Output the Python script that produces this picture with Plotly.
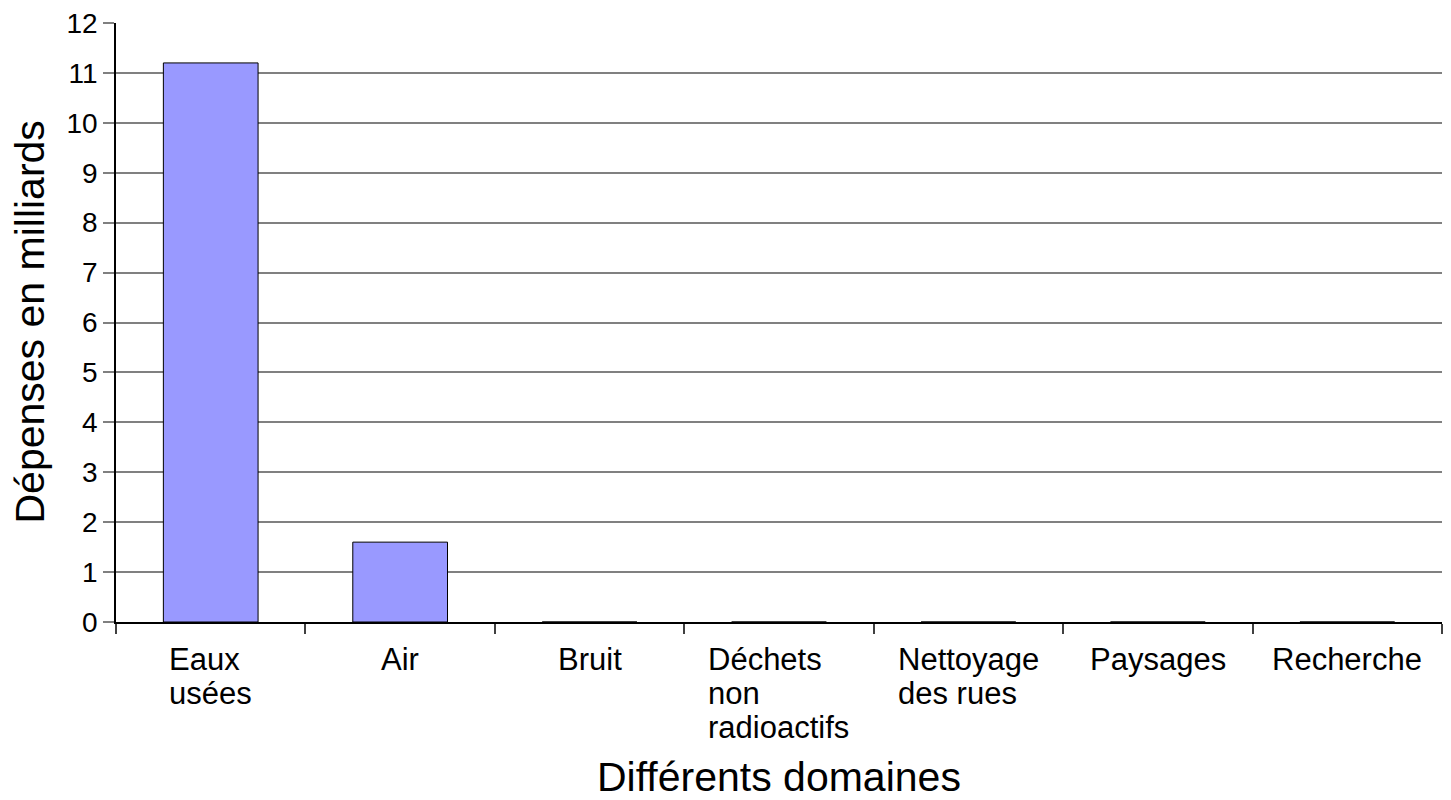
import plotly.graph_objects as go

categories = ["Eaux usées", "Air", "Bruit", "Déchets non radioactifs",
              "Nettoyage des rues", "Paysages", "Recherche"]
label_lines = [["Eaux", "usées"], ["Air"], ["Bruit"], ["Déchets", "non", "radioactifs"],
               ["Nettoyage", "des rues"], ["Paysages"], ["Recherche"]]
values = [11.2, 1.6, 0, 0, 0, 0, 0]
y_ticks = list(range(0, 13))
x_title = "Différents domaines"
y_title = "Dépenses en milliards"

FONT = "Liberation Sans, Arial, sans-serif"
XTICK_SIZE = 31
YTICK_SIZE = 28
TITLE_SIZE = 41
LINE_STEP = 34

# Arial / Liberation Sans advance widths (1/1000 em) for left-aligning wrapped labels
ADV = {"E": 667, "a": 556, "u": 556, "x": 500, "s": 500, "é": 556, "e": 556,
       "A": 667, "i": 222, "r": 333, "B": 667, "D": 722, "c": 500, "h": 556,
       "t": 278, "n": 556, "o": 556, "d": 556, "f": 278, "N": 722, "y": 500,
       "g": 556, "P": 667, "R": 722, " ": 278, "l": 222}


def text_width(s, size):
    return sum(ADV.get(ch, 556) for ch in s) * size / 1000.0


fig = go.Figure()
fig.add_trace(go.Bar(
    x=categories, y=values,
    marker=dict(color="#9999FF", line=dict(color="#000000", width=1)),
    width=0.5,
    showlegend=False,
    hoverinfo="x+y",
))

annotations = []
for cat, lines in zip(categories, label_lines):
    maxw = max(text_width(l, XTICK_SIZE) for l in lines)
    for k, line in enumerate(lines):
        annotations.append(dict(
            x=cat, xref="x", y=0, yref="paper",
            text=line, showarrow=False, xanchor="left", yanchor="top",
            xshift=-maxw / 2 - 1, yshift=-19 - k * LINE_STEP,
            borderpad=0,
            font=dict(family=FONT, size=XTICK_SIZE, color="#000000"),
        ))

annotations.append(dict(
    x=0.5, xref="paper", y=0, yref="paper", text=x_title, showarrow=False,
    xanchor="center", yanchor="middle", yshift=-155, borderpad=0,
    font=dict(family=FONT, size=TITLE_SIZE, color="#000000"),
))
annotations.append(dict(
    x=0, xref="paper", y=0.5, yref="paper", text=y_title, showarrow=False,
    xanchor="center", yanchor="middle", xshift=-87, textangle=-90, borderpad=0,
    font=dict(family=FONT, size=TITLE_SIZE, color="#000000"),
))

fig.update_layout(
    width=1435, height=784, autosize=False,
    margin=dict(l=108, r=1, t=15, b=170, pad=0),
    paper_bgcolor="#FFFFFF", plot_bgcolor="#FFFFFF",
    font=dict(family=FONT, size=YTICK_SIZE, color="#000000"),
    bargap=0.5,
    annotations=annotations,
    xaxis=dict(
        type="category", automargin=False,
        showticklabels=False,
        showgrid=False, zeroline=False,
        showline=True, linecolor="#000000", linewidth=1.5,
        ticks="outside", tickson="boundaries", ticklen=10,
        tickcolor="#404040", tickwidth=1.5,
    ),
    yaxis=dict(
        automargin=False,
        range=[0, 12], tickvals=y_ticks, ticktext=[str(v) for v in y_ticks],
        ticklabeloverflow="allow",
        showgrid=True, gridcolor="#808080", gridwidth=1.5,
        zeroline=False,
        showline=True, linecolor="#000000", linewidth=1.5,
        ticks="outside", ticklen=11, tickcolor="#808080", tickwidth=1.5,
        tickfont=dict(family=FONT, size=YTICK_SIZE, color="#000000"),
    ),
)

fig.write_html("out.html")
